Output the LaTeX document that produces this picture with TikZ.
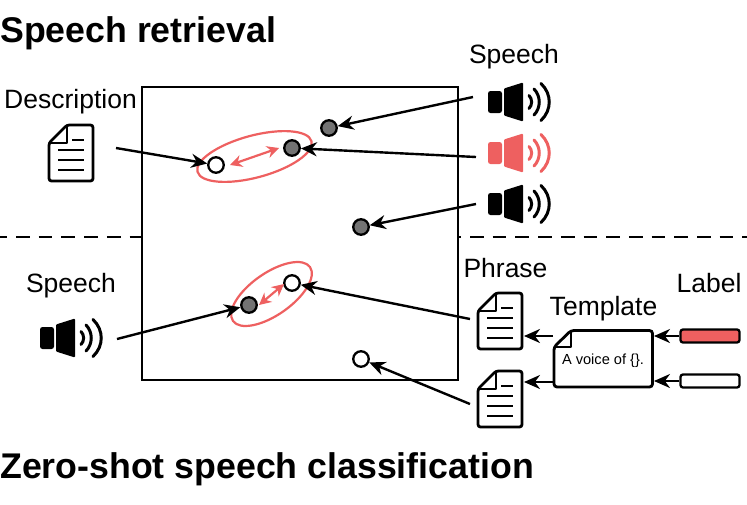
\documentclass[tikz,border=0pt]{standalone}
\usepackage{fontspec}
\setmainfont{Liberation Sans}
\usetikzlibrary{arrows.meta}
\definecolor{salmon}{HTML}{EE6060}
\tikzset{
  lbl/.style={inner sep=0pt,font=\fontsize{26.5}{30}\selectfont},
  heading/.style={inner sep=0pt,anchor=west,font=\fontsize{35.7}{40}\selectfont\bfseries},
  whitedot/.style={circle,draw,line width=2.3pt,fill=white,minimum size=15.5pt,inner sep=0pt},
  greydot/.style={circle,draw,line width=2.3pt,fill=black!55,minimum size=15.5pt,inner sep=0pt},
  labelbar/.style={draw,line width=2.3pt,rounded corners=2.5pt,minimum width=59pt,minimum height=13pt,inner sep=0pt},
  blob/.style={draw=salmon,line width=2.2pt},
  speaker/.pic={
    \fill[rounded corners=2.5pt] (0,-11) -- (14,-11) -- (14,11) -- (0,11) -- cycle;
    \fill[rounded corners=1pt] (16,-13.5) -- (35,-19.5) -- (35,19.5) -- (16,13.5) -- cycle;
    \draw[line width=3pt,line cap=round,pic actions]
      (41,-6.5) .. controls (44.5,-3) and (44.5,3) .. (41,6.5)
      (46,-13) .. controls (53,-6) and (53,6) .. (46,13)
      (53,-18.5) .. controls (64,-8) and (64,8) .. (53,18.5);
  },
  paper/.pic={
    \draw[line width=2.8pt,rounded corners=2.5pt,fill=white]
      (1,19) -- (19,1) -- (45,1) -- (45,57) -- (1,57) -- cycle;
    \draw[line width=2.8pt,line join=round] (1,19) -- (19,19) -- (19,1);
    \draw[line width=2.5pt] (24,16) -- (36,16) (10,26) -- (36,26) (10,36) -- (36,36) (10,46) -- (36,46);
  }
}
\begin{document}
\begin{tikzpicture}[x=1pt,y=-1pt]
  \useasboundingbox (0,0) rectangle (747,504);
  \draw[line width=2pt,dash pattern=on 13.7pt off 9pt,dash phase=6.7pt] (0,237) -- (747,237);
  \draw[line width=2.4pt,fill=white] (142,87) rectangle (458,380);
  \draw[blob,rotate around={15:(254.5,156.5)}] (254.5,156.5) ellipse (59 and 21);
  \draw[blob,rotate around={35:(271.5,294)}] (271.5,294) ellipse (47 and 21);
  \draw
    (216,165) node[whitedot] (descdot){}
    (292,148) node[greydot] (reddot){}
    (329,128) node[greydot] (topdot){}
    (361,227) node[greydot] (lowdot){}
    (249,305) node[greydot] (querydot){}
    (292,283) node[whitedot] (phrasedot){}
    (361,359) node[whitedot] (otherdot){};
  \draw
    (0,33) node[heading] (retrieval){Speech retrieval}
    (0,469) node[heading] (zeroshot){Zero-shot speech classification}
    (70.5,102) node[lbl] (description){Description}
    (514,57) node[lbl] (speechtop){Speech}
    (71,286) node[lbl] (speechleft){Speech}
    (505.5,268) node[lbl] (phrase){Phrase}
    (603.5,309) node[lbl] (template){Template}
    (709,283) node[lbl] (label){Label};
  \pic at (48,124) {paper};
  \pic at (477,292) {paper};
  \pic at (477,370) {paper};
  \pic at (488,102) {speaker};
  \pic[salmon] at (488,153) {speaker};
  \pic at (488,204) {speaker};
  \pic at (40,338) {speaker};
  \draw[line width=2.8pt,rounded corners=3pt,fill=white]
    (554,347) -- (571,330.5) -- (652.5,330.5) -- (652.5,387) -- (554,387) -- cycle;
  \draw[line width=2.8pt,line join=round] (554,347) -- (571,347) -- (571,330.5);
  \draw
    (603,361) node[inner sep=0pt,font=\fontsize{14.6}{17}\selectfont] (voice){A voice of \{\}.}
    (710,336) node[labelbar,fill=salmon] (redbar){}
    (710,381) node[labelbar,fill=white] (whitebar){}
    (116,148) coordinate (descout)
    (473,97) coordinate (speakerone)
    (476,157) coordinate (speakertwo)
    (476,204) coordinate (speakerthree)
    (117,339) coordinate (speakerleft)
    (470,319) coordinate (phraseone)
    (470,404) coordinate (phrasetwo)
    (553,336) coordinate (tmplone)
    (553,382) coordinate (tmpltwo)
    (524,336) coordinate (docone)
    (524,382) coordinate (doctwo)
    (654,336) coordinate (tmplred)
    (654,381) coordinate (tmplwhite)
    (230,165) coordinate (pairaw)
    (279,148) coordinate (pairae)
    (259,305) coordinate (pairbw)
    (284,284) coordinate (pairbe);
  \begin{scope}[line width=2.4pt,-{Stealth[length=16pt,width=14pt]}]
    \draw (descout) to (descdot);
    \draw (speakerone) to (topdot);
    \draw (speakertwo) to (reddot);
    \draw (speakerthree) to (lowdot);
    \draw (speakerleft) to (querydot);
    \draw (phraseone) to (phrasedot);
    \draw (phrasetwo) to (otherdot);
    \draw (tmplone) to (docone);
    \draw (tmpltwo) to (doctwo);
    \draw (redbar) to (tmplred);
    \draw (whitebar) to (tmplwhite);
  \end{scope}
  \begin{scope}[line width=2.2pt,salmon,{Stealth[length=12pt,width=12pt]}-{Stealth[length=12pt,width=12pt]}]
    \draw (pairaw) to (pairae);
    \draw (pairbw) to (pairbe);
  \end{scope}
\end{tikzpicture}
\end{document}
